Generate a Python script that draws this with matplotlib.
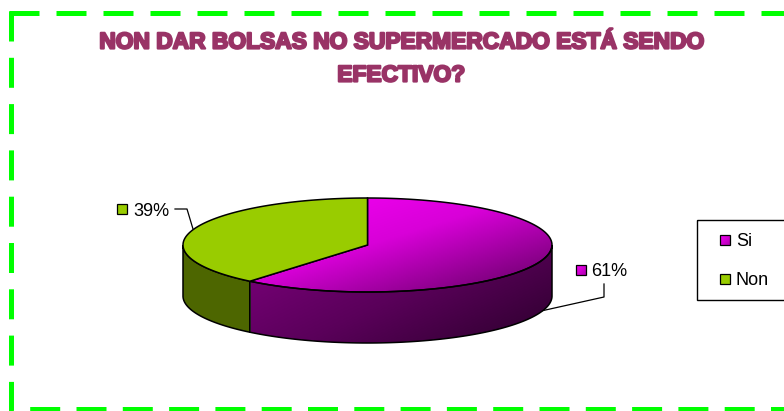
import numpy as np
import matplotlib
matplotlib.use('Agg')
import matplotlib.pyplot as plt
import matplotlib.patheffects as pe
from matplotlib.colors import LinearSegmentedColormap
from matplotlib.patches import Polygon, Rectangle

categories = ['Si', 'Non']
values = [61, 39]
pct_labels = ['61%', '39%']
title_lines = ['NON DAR BOLSAS NO SUPERMERCADO ESTÁ SENDO', 'EFECTIVO?']

plt.rcParams['font.family'] = ['Liberation Sans', 'DejaVu Sans']
plt.rcParams['lines.scale_dashes'] = False

fig = plt.figure(figsize=(7.84, 4.11), dpi=100)
ax = fig.add_axes([0, 0, 1, 1])
ax.set_xlim(0, 784)
ax.set_ylim(411, 0)
ax.axis('off')

# pie shape in pixels
cx, cy = 367.5, 245
rx, ry = 184.5, 47
depth = 51


def rim(t0, t1, n=120):
    t = np.radians(np.linspace(t0, t1, n))
    return np.column_stack([cx + rx * np.sin(t), cy - ry * np.cos(t)])


def gradient_fill(pts, colors, box, angle=0.35):
    # diagonal gradient clipped to the polygon
    x0, x1, y0, y1 = box
    xx, yy = np.meshgrid(np.linspace(0, 1, 200), np.linspace(0, 1, 100))
    g = (angle * xx + (1 - angle) * yy)
    cmap = LinearSegmentedColormap.from_list('g', colors)
    im = ax.imshow(g, extent=(x0, x1, y1, y0), cmap=cmap, aspect='auto', vmin=0, vmax=1, zorder=2)
    clip = Polygon(pts, closed=True, transform=ax.transData, fill=False, edgecolor='none')
    ax.add_patch(clip)
    im.set_clip_path(clip)


def outline(pts):
    ax.add_patch(Polygon(pts, closed=True, fill=False, edgecolor='black', linewidth=1.1, zorder=4))


split = 360 * values[0] / sum(values)
down = np.array([0, depth])

# side walls
si_arc = rim(90, split)
wall_si = np.vstack([si_arc, (si_arc + down)[::-1]])
gradient_fill(wall_si, ['#7c007c', '#5a005a', '#2c002c'], (251, 552, 245, 343), angle=0.6)
outline(wall_si)

non_arc = rim(split, 270)
wall_non = np.vstack([non_arc, (non_arc + down)[::-1]])
ax.add_patch(Polygon(wall_non, closed=True, facecolor='#4d6600', edgecolor='black', linewidth=1.1, zorder=3))

# top faces
top_si = np.vstack([[cx, cy], rim(0, split)])
gradient_fill(top_si, ['#ff00ff', '#d800d8', '#600060'], (183, 552, 198, 292), angle=0.55)
outline(top_si)

top_non = np.vstack([[cx, cy], rim(split, 360)])
ax.add_patch(Polygon(top_non, closed=True, facecolor='#99cc00', edgecolor='black', linewidth=1.1, zorder=4))

# leader lines
ax.plot([175, 187, 193], [209, 209, 229], color='black', linewidth=0.9, zorder=5)
ax.plot([604, 604, 541], [284, 297, 311], color='black', linewidth=0.9, zorder=1)


def swatch(x, y, color_a, color_b=None):
    if color_b is None:
        ax.add_patch(Rectangle((x, y), 10, 10, facecolor=color_a, edgecolor='black', linewidth=0.9, zorder=5))
    else:
        pts = [(x, y), (x + 10, y), (x + 10, y + 10), (x, y + 10)]
        gradient_fill(pts, [color_a, color_b], (x, x + 10, y, y + 10), angle=0.5)
        ax.add_patch(Rectangle((x, y), 10, 10, fill=False, edgecolor='black', linewidth=0.9, zorder=5))


# data labels
swatch(576, 265, '#f800f8', '#b000b0')
ax.text(591.5, 271, pct_labels[0], fontsize=13, color='black', va='center', ha='left')
swatch(117, 204, '#99cc00')
ax.text(133, 211, pct_labels[1], fontsize=13, color='black', va='center', ha='left')

# legend box runs off the right side
ax.add_patch(Rectangle((697, 220), 100, 80, fill=False, edgecolor='black', linewidth=1.0, clip_on=True, zorder=5))
swatch(720, 235, '#f800f8', '#b000b0')
swatch(720, 274, '#99cc00')
ax.text(736, 241, categories[0], fontsize=13, va='center', ha='left', color='black')
ax.text(736, 280, categories[1], fontsize=13, va='center', ha='left', color='black')

# title, no display font here so a bold face with a thick stroke
for line, ty in zip(title_lines, [42, 75]):
    ax.text(401, ty, line, fontsize=16.4, fontweight='bold', color='#993366',
            ha='center', va='center',
            path_effects=[pe.withStroke(linewidth=1.6, foreground='#993366')])

# dashed green border
green = '#00ff00'
px = 0.72
ax.plot([11.5, 11.5, 790], [11, 408.5, 408.5], color=green, linewidth=5 * px,
        linestyle=(0, (30 * px, 16.3 * px)), dash_capstyle='butt', dash_joinstyle='miter', zorder=6)
ax.plot([9, 790], [13.5, 13.5], color=green, linewidth=5 * px,
        linestyle=(0, (30 * px, 17 * px)), dash_capstyle='butt', zorder=6)

ax.set_xlim(0, 784)
ax.set_ylim(411, 0)
fig.savefig('out.png', dpi=100)
